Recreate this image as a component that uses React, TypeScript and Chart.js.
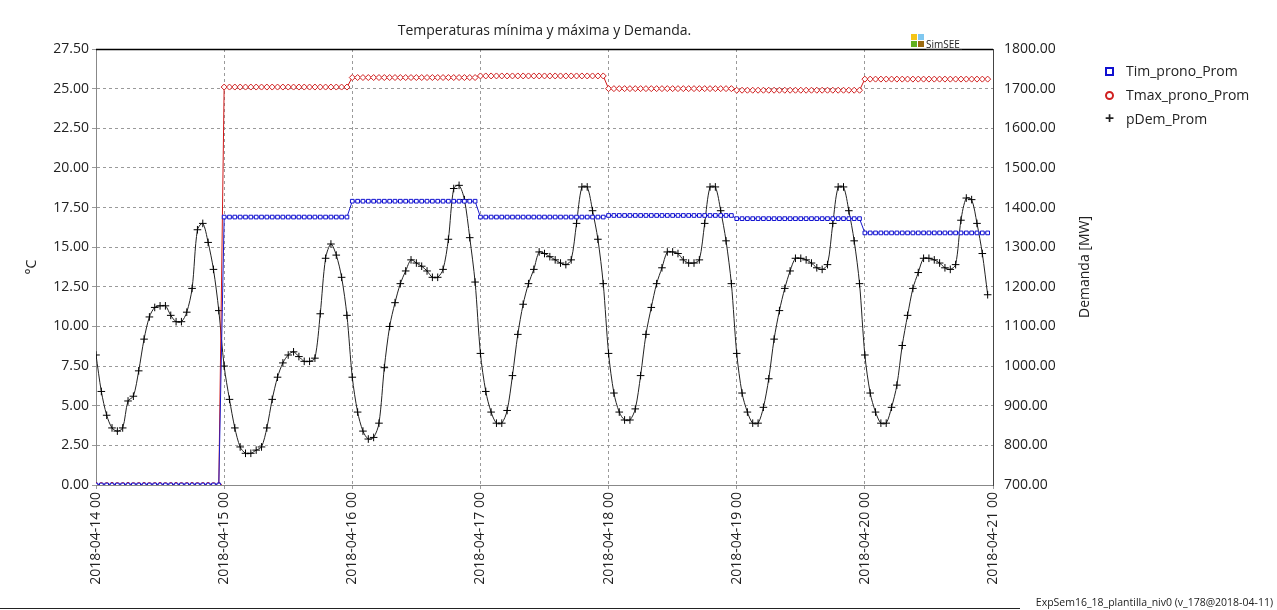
import React, { useEffect, useRef } from "react";
import { Chart, registerables } from "chart.js";
Chart.register(...registerables);

const dayLabels = ["2018-04-14 00", "2018-04-15 00", "2018-04-16 00", "2018-04-17 00", "2018-04-18 00", "2018-04-19 00", "2018-04-20 00", "2018-04-21 00"];
const tminDaily = [0, 16.9, 17.9, 16.9, 17.0, 16.8, 15.9];
const tmaxDaily = [0, 25.1, 25.7, 25.8, 25.0, 24.9, 25.6];
const demand = [
  1028, 936, 876, 844, 836, 844, 912, 924, 988, 1068, 1124, 1148, 1152, 1152, 1128, 1112, 1112, 1136, 1196, 1344, 1360, 1312, 1244, 1140,
  1000, 916, 844, 796, 780, 780, 788, 796, 844, 916, 972, 1008, 1028, 1036, 1024, 1012, 1012, 1020, 1132, 1272, 1308, 1280, 1224, 1128,
  972, 884, 836, 816, 820, 856, 996, 1100, 1160, 1208, 1240, 1268, 1260, 1252, 1240, 1224, 1224, 1244, 1320, 1448, 1456, 1420, 1324, 1212,
  1032, 936, 884, 856, 856, 888, 976, 1080, 1156, 1208, 1244, 1288, 1284, 1276, 1268, 1260, 1256, 1268, 1360, 1452, 1452, 1392, 1320, 1208,
  1032, 932, 884, 864, 864, 892, 976, 1080, 1148, 1208, 1248, 1288, 1288, 1284, 1268, 1260, 1260, 1268, 1360, 1452, 1452, 1392, 1316, 1208,
  1032, 932, 884, 856, 856, 896, 968, 1068, 1140, 1196, 1240, 1272, 1272, 1268, 1260, 1248, 1244, 1256, 1360, 1452, 1452, 1392, 1316, 1208,
  1028, 932, 884, 856, 856, 896, 952, 1052, 1128, 1196, 1236, 1272, 1272, 1268, 1260, 1248, 1244, 1256, 1368, 1424, 1420, 1360, 1284, 1180,
];

const W = 1277, H = 610;
const LEFT = 96, RIGHT = 993, TOP = 49, BOTTOM = 485;
const FONT = "'Open Sans', 'Noto Sans', sans-serif";

export default function App() {
  const ref = useRef<HTMLCanvasElement>(null);
  useEffect(() => {
    const hourly = (d: number[]) => demand.map((_, i) => ({ x: i, y: d[Math.floor(i / 24)] }));
    const font = { family: FONT, size: 14 };
    const grid = { color: "#9a9a9a", tickLength: 4 };
    const frame = {
      id: "frame",
      afterDraw(c: any) {
        const ctx = c.ctx;
        const a = c.chartArea;
        ctx.save();
        ctx.strokeStyle = "#000";
        ctx.lineWidth = 1.5;
        ctx.beginPath();
        ctx.moveTo(a.left, a.top + 0.5);
        ctx.lineTo(a.right, a.top + 0.5);
        ctx.stroke();
        ctx.strokeStyle = "#888";
        ctx.lineWidth = 1;
        ctx.beginPath();
        ctx.moveTo(a.left, a.bottom + 0.5);
        ctx.lineTo(a.right, a.bottom + 0.5);
        ctx.stroke();
        ctx.fillStyle = "#222";
        ctx.font = `14px ${FONT}`;
        ctx.textAlign = "center";
        ctx.textBaseline = "middle";
        ctx.translate(1085, (a.top + a.bottom) / 2);
        ctx.rotate(-Math.PI / 2);
        ctx.fillText("Demanda [MW]", 0, 0);
        ctx.restore();
      },
    };
    const chart = new Chart(ref.current!, {
      type: "line",
      data: {
        datasets: [
          { label: "Tim_prono_Prom", data: hourly(tminDaily), yAxisID: "y", borderColor: "#1a1acc", backgroundColor: "#fff", borderWidth: 1, pointStyle: "rect", pointRadius: 2.6, pointBorderWidth: 1, pointBorderColor: "#1010d0" },
          { label: "Tmax_prono_Prom", data: hourly(tmaxDaily), yAxisID: "y", borderColor: "#d01818", backgroundColor: "#fff", borderWidth: 1, pointStyle: "rectRot", pointRadius: 3, pointBorderWidth: 1, pointBorderColor: "#d02020" },
          { label: "pDem_Prom", data: demand.map((v, i) => ({ x: i, y: v })), yAxisID: "y1", borderColor: "#222", borderWidth: 1, pointStyle: "cross", pointRadius: 3.8, pointBorderWidth: 1, pointBorderColor: "#000", tension: 0.3 },
        ],
      },
      options: {
        animation: false,
        responsive: false,
        layout: { padding: { left: 20, right: W - 1095, top: TOP, bottom: 0 } },
        plugins: { legend: { display: false }, tooltip: { enabled: false } },
        scales: {
          x: {
            type: "linear", min: 0, max: 168,
            afterBuildTicks: (s: any) => { s.ticks = dayLabels.map((_, i) => ({ value: i * 24 })); },
            afterFit: (s: any) => { s.height = H - BOTTOM; },
            ticks: { font, color: "#222", minRotation: 90, maxRotation: 90, autoSkip: false, callback: (v: any) => dayLabels[Math.round(v / 24)] },
            grid, border: { color: "#888", display: true, dash: [3, 3] },
          },
          y: {
            position: "left", min: 0, max: 27.5,
            afterBuildTicks: (s: any) => { s.ticks = Array.from({ length: 12 }, (_, i) => ({ value: i * 2.5 })); },
            afterFit: (s: any) => { s.width = LEFT - 20; },
            ticks: { font, color: "#222", callback: (v: any) => Number(v).toFixed(2) },
            title: { display: true, text: "°C", font, color: "#222" },
            grid, border: { color: "#888", dash: [3, 3] },
          },
          y1: {
            position: "right", min: 700, max: 1800,
            afterBuildTicks: (s: any) => { s.ticks = Array.from({ length: 12 }, (_, i) => ({ value: 700 + i * 100 })); },
            afterFit: (s: any) => { s.width = 1095 - RIGHT; },
            ticks: { font, color: "#222", callback: (v: any) => Number(v).toFixed(2) },
            grid: { display: false }, border: { color: "#444", dash: [3, 2] },
          },
        },
      },
      plugins: [frame],
    });
    return () => chart.destroy();
  }, []);

  return (
    <div style={{ position: "fixed", left: 0, top: 0, width: W, height: H, background: "#fff", fontFamily: FONT }}>
      <canvas ref={ref} width={W} height={H} style={{ position: "absolute", left: 0, top: 0 }} />
      <div style={{ position: "absolute", left: LEFT, width: RIGHT - LEFT, top: 20, textAlign: "center", fontSize: 14, color: "#222" }}>
        Temperaturas mínima y máxima y Demanda.
      </div>
      <div style={{ position: "absolute", left: 911, top: 34, width: 14, height: 14 }}>
        <div style={{ position: "absolute", left: 0, top: 0, width: 6, height: 6, background: "#f5c518" }} />
        <div style={{ position: "absolute", left: 7, top: 0, width: 6, height: 6, background: "#80c8f0" }} />
        <div style={{ position: "absolute", left: 0, top: 7, width: 6, height: 6, background: "#60b020" }} />
        <div style={{ position: "absolute", left: 7, top: 7, width: 6, height: 6, background: "#9a6a10" }} />
      </div>
      <div style={{ position: "absolute", left: 926, top: 39, fontSize: 10, color: "#222", borderBottom: "1px solid #222", lineHeight: "10px", width: 36 }}>SimSEE</div>
      <div style={{ position: "absolute", left: 1105, top: 59, fontSize: 14, color: "#222", lineHeight: "24px" }}>
        {[["Tim_prono_Prom", "#1010d0", "sq"], ["Tmax_prono_Prom", "#d02020", "ci"], ["pDem_Prom", "#000", "cr"]].map(([t, c, k]) => (
          <div key={t} style={{ position: "relative", paddingLeft: 21 }}>
            <span style={{ position: "absolute", left: 0, top: 8, width: 5, height: 5, border: `2px solid ${c}`, borderRadius: k === "ci" ? 5 : 0, display: k === "cr" ? "none" : "block" }} />
            {k === "cr" && <span style={{ position: "absolute", left: 0, top: -1, fontSize: 16, fontWeight: 700 }}>+</span>}
            {t}
          </div>
        ))}
      </div>
      <div style={{ position: "absolute", left: 0, width: 1020, top: 608, height: 1, background: "#222" }} />
      <div style={{ position: "absolute", right: 4, top: 595, fontSize: 10.5, color: "#222", whiteSpace: "nowrap" }}>ExpSem16_18_plantilla_niv0 (v_178@2018-04-11)</div>
    </div>
  );
}
